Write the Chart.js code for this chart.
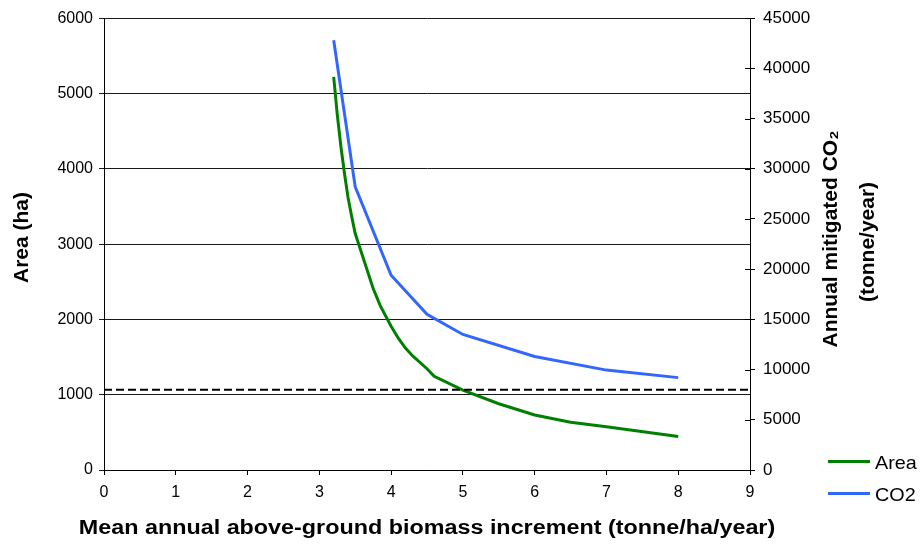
<!DOCTYPE html>
<html>
<head>
<meta charset="utf-8">
<script src="https://cdn.jsdelivr.net/npm/chart.js@4.4.1/dist/chart.umd.min.js"></script>
<style>
  html, body { margin: 0; padding: 0; background: #fff; }
  #c { display: block; }
</style>
</head>
<body>
<canvas id="c" width="920" height="548"></canvas>
<script>
// ---- data ----
const areaIncrement = [3.2, 3.25, 3.3, 3.35, 3.4, 3.45, 3.5, 3.75, 3.85, 4, 4.1, 4.2, 4.3, 4.5, 4.6, 5, 5.5, 6, 6.5, 7, 8];
const areaHa       = [5220, 4720, 4300, 3940, 3620, 3370, 3140, 2410, 2180, 1910, 1750, 1620, 1515, 1345, 1245, 1060, 880, 730, 635, 575, 445];
const co2Increment = [3.2, 3.5, 4, 4.5, 5, 6, 7, 8];
const co2Tonne     = [42800, 28200, 19400, 15500, 13500, 11300, 9950, 9200];
const thresholdX   = [0, 9];
const thresholdCO2 = [8000, 8000];
const seriesLabels = ['Area', 'CO2'];
const xTitle  = 'Mean annual above-ground biomass increment (tonne/ha/year)';
const yTitle  = 'Area (ha)';
const y2Title = ['Annual mitigated CO\u2082', '(tonne/year)'];

const toXY = (xs, ys) => xs.map((x, i) => ({ x: x, y: ys[i] }));
const plain = v => String(v);

const FONT = '"Liberation Sans", Arial, Helvetica, sans-serif';

const annotate = {
  id: 'annotate',
  afterDraw(chart) {
    const ctx = chart.ctx;
    const y2 = chart.scales.y2;
    const area = chart.chartArea;
    ctx.save();
    // inner half of the right-axis cross ticks
    ctx.strokeStyle = '#000';
    ctx.lineWidth = 1;
    y2.ticks.forEach(t => {
      const py = Math.round(y2.getPixelForValue(t.value)) + 0.5;
      ctx.beginPath();
      ctx.moveTo(area.right - 5, py);
      ctx.lineTo(area.right, py);
      ctx.stroke();
    });

    ctx.fillStyle = '#000';
    ctx.textBaseline = 'alphabetic';
    ctx.textAlign = 'center';

    // x axis title (reference is horizontally stretched)
    ctx.save();
    ctx.font = 'bold 20px ' + FONT;
    ctx.translate((area.left + area.right) / 2, 534);
    ctx.scale(1.167, 1);
    ctx.fillText(xTitle, 0, 0);
    ctx.restore();

    // left axis title
    ctx.save();
    ctx.font = 'bold 21px ' + FONT;
    ctx.translate(28, 237.5);
    ctx.rotate(-Math.PI / 2);
    ctx.fillText(yTitle, 0, 0);
    ctx.restore();

    // right axis title (two lines)
    ctx.save();
    ctx.font = 'bold 21px ' + FONT;
    ctx.translate(836.5, 239);
    ctx.rotate(-Math.PI / 2);
    ctx.fillText(y2Title[0], 0, 0);
    ctx.restore();
    ctx.save();
    ctx.font = 'bold 21px ' + FONT;
    ctx.translate(873.5, 242);
    ctx.rotate(-Math.PI / 2);
    ctx.fillText(y2Title[1], 0, 0);
    ctx.restore();

    // legend
    const legendSets = chart.data.datasets.filter(d => d.showInLegend);
    legendSets.forEach((d, i) => {
      const ly = 461.5 + i * 32;
      ctx.strokeStyle = d.borderColor;
      ctx.lineWidth = 3;
      ctx.beginPath();
      ctx.moveTo(828, ly);
      ctx.lineTo(870, ly);
      ctx.stroke();
      ctx.save();
      ctx.fillStyle = '#000';
      ctx.textAlign = 'left';
      ctx.font = '18.5px ' + FONT;
      ctx.translate(875, ly + 7);
      ctx.scale(1.07, 1);
      ctx.fillText(d.label, 0, 0);
      ctx.restore();
    });
    ctx.restore();
  }
};

new Chart(document.getElementById('c'), {
  type: 'line',
  data: {
    datasets: [
      {
        label: seriesLabels[0],
        data: toXY(areaIncrement, areaHa),
        borderColor: '#008000',
        backgroundColor: '#008000',
        borderWidth: 3,
        pointRadius: 0,
        tension: 0,
        yAxisID: 'y',
        showInLegend: true,
        order: 2
      },
      {
        label: seriesLabels[1],
        data: toXY(co2Increment, co2Tonne),
        borderColor: '#3366FF',
        backgroundColor: '#3366FF',
        borderWidth: 3,
        pointRadius: 0,
        tension: 0,
        yAxisID: 'y2',
        showInLegend: true,
        order: 3
      },
      {
        label: 'threshold',
        data: toXY(thresholdX, thresholdCO2),
        borderColor: '#000',
        borderWidth: 2,
        borderDash: [8, 4],
        pointRadius: 0,
        yAxisID: 'y2',
        showInLegend: false,
        order: 1
      }
    ]
  },
  options: {
    responsive: false,
    animation: false,
    layout: { padding: { top: 18, left: 0, right: 0, bottom: 0 } },
    plugins: {
      legend: { display: false },
      tooltip: { enabled: false },
      title: { display: false }
    },
    scales: {
      x: {
        type: 'linear',
        min: 0, max: 9,
        afterFit(s) { s.height = 78; },
        ticks: { stepSize: 1, color: '#000', font: { family: FONT, size: 16 }, padding: 8, maxRotation: 0, callback: plain },
        grid: { drawOnChartArea: false, drawTicks: true, tickLength: 5, color: '#000' },
        border: { color: '#000', width: 1 }
      },
      y: {
        position: 'left',
        min: 0, max: 6000,
        afterFit(s) { s.width = 104; },
        ticks: { stepSize: 1000, color: '#000', font: { family: FONT, size: 16 }, padding: 6, callback: plain },
        grid: { color: '#1a1a1a', lineWidth: 1, tickLength: 5 },
        border: { color: '#000', width: 1 }
      },
      y2: {
        position: 'right',
        min: 0, max: 45000,
        afterFit(s) { s.width = 170; },
        ticks: { stepSize: 5000, color: '#000', font: { family: FONT, size: 17 }, padding: 8, callback: plain },
        grid: { drawOnChartArea: false, tickLength: 5, color: '#000' },
        border: { color: '#000', width: 1 }
      }
    }
  },
  plugins: [annotate]
});
</script>
</body>
</html>
